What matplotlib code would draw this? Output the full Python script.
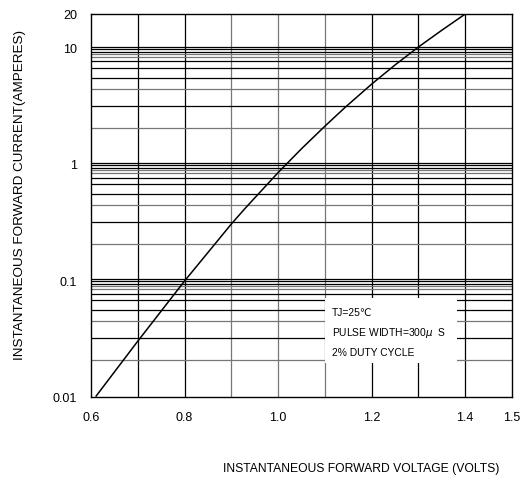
# Forward characteristic curve (log scale current vs voltage)
import matplotlib
matplotlib.use("Agg")
import matplotlib.pyplot as plt
from matplotlib.patches import Rectangle

plt.rcParams['font.family'] = ['Liberation Sans', 'DejaVu Sans']

# data
voltage = [0.611, 0.70, 0.80, 0.90, 0.93, 0.95, 1.00, 1.05, 1.10, 1.143,
           1.20, 1.25, 1.30, 1.35, 1.40]
current = [0.0102, 0.0303, 0.100, 0.31, 0.425, 0.52, 0.86, 1.38, 2.16, 3.13,
           4.98, 7.28, 10.4, 14.5, 20.0]

x_ticks = [0.6, 0.8, 1.0, 1.2, 1.4, 1.5]
x_tick_labels = ["0.6", "0.8", "1.0", "1.2", "1.4", "1.5"]
y_ticks = [0.01, 0.1, 1, 10, 20]
y_tick_labels = ["0.01", "0.1", "1", "10", "20"]

# vertical grid every 0.1 V
v_grid = [0.7, 0.8, 0.9, 1.0, 1.1, 1.2, 1.3, 1.4]
v_grid_colors = ["k", "k", "#777777", "#777777", "#777777", "k", "k", "k"]

# horizontal grid: multipliers inside each decade
h_mult = [1.05, 1.0, 0.95, 0.9, 0.85, 0.78, 0.68, 0.56, 0.45, 0.32, 0.21]
h_colors = ["k", "k", "k", "#777777", "#777777", "k", "k", "k", "#777777", "k", "#777777"]
decades = [0.1, 1, 10]

fig = plt.figure(figsize=(5.27, 4.91), dpi=100)
ax = fig.add_axes([0.1727, 0.1914, 0.7988, 0.78])

ax.set_yscale("log")
ax.set_xlim(0.6, 1.5)
ax.set_ylim(0.01, 20)

for v, c in zip(v_grid, v_grid_colors):
    ax.axvline(v, color=c, lw=0.9, zorder=1)
for d in decades:
    for m, c in zip(h_mult, h_colors):
        val = d * m
        if 0.01 < val < 20:
            ax.axhline(val, color=c, lw=0.9, zorder=1)

# white box behind the test conditions
ax.add_patch(Rectangle((0.556, 0.089), 0.313, 0.169, transform=ax.transAxes,
                       facecolor="white", edgecolor="none", zorder=2))
ax.text(0.572, 0.219, "TJ=25℃", transform=ax.transAxes, fontsize=7.4,
        va="center", ha="left", zorder=3)
ax.text(0.572, 0.167, "PULSE WIDTH=300$\\mu$  S", transform=ax.transAxes, fontsize=7.4,
        va="center", ha="left", zorder=3)
ax.text(0.572, 0.115, "2% DUTY CYCLE", transform=ax.transAxes, fontsize=7.4,
        va="center", ha="left", zorder=3)

ax.plot(voltage, current, color="k", lw=1.1, zorder=4)

ax.set_xticks(x_ticks)
ax.set_xticklabels(x_tick_labels)
ax.set_yticks(y_ticks)
ax.set_yticklabels(y_tick_labels)
ax.minorticks_off()
ax.tick_params(length=0, labelsize=9)
ax.tick_params(axis="x", pad=11)
ax.tick_params(axis="y", pad=10)

for s in ax.spines.values():
    s.set_linewidth(1.0)

fig.text(361 / 527, 1 - 469 / 491, "INSTANTANEOUS FORWARD VOLTAGE (VOLTS)",
         ha="center", va="center", fontsize=8.7)
fig.text(20 / 527, 1 - 195 / 491, "INSTANTANEOUS FORWARD CURRENT(AMPERES)",
         ha="center", va="center", rotation=90, fontsize=9.7)

fig.savefig("out.png", dpi=100)
